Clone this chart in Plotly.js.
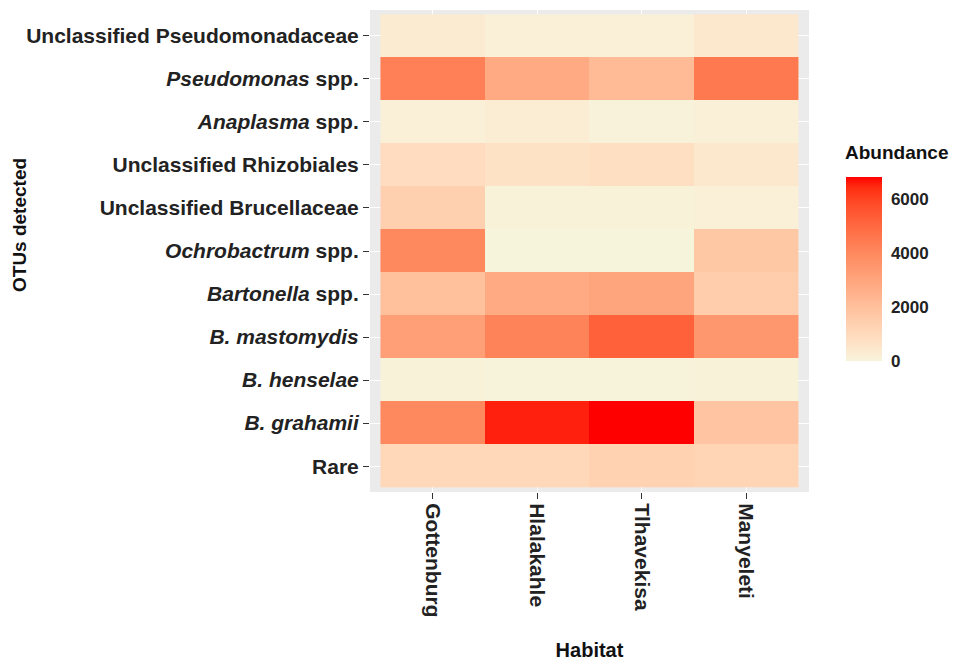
<!DOCTYPE html>
<html>
<head>
<meta charset="utf-8">
<script src="https://cdn.plot.ly/plotly-3.0.1.min.js"></script>
<style>html,body{margin:0;padding:0;background:#fff;}#chart{width:956px;height:664px;}</style>
</head>
<body>
<div id="chart"></div>
<script>
// ---- data ----
const habitats = ["Gottenburg", "Hlalakahle", "Tlhavekisa", "Manyeleti"];
const otus = ["Unclassified Pseudomonadaceae", "Pseudomonas spp.", "Anaplasma spp.", "Unclassified Rhizobiales",
  "Unclassified Brucellaceae", "Ochrobactrum spp.", "Bartonella spp.", "B. mastomydis", "B. henselae", "B. grahamii", "Rare"];
const otuLabels = ["Unclassified Pseudomonadaceae", "<i>Pseudomonas</i> spp.", "<i>Anaplasma</i> spp.", "Unclassified Rhizobiales",
  "Unclassified Brucellaceae", "<i>Ochrobactrum</i> spp.", "<i>Bartonella</i> spp.", "<i>B. mastomydis</i>", "<i>B. henselae</i>", "<i>B. grahamii</i>", "Rare"];
const gottenburg = [350, 4300, 150, 900, 1400, 4000, 2000, 3200, 80, 4000, 1100];
const hlalakahle = [150, 2800, 250, 700, 80, 0, 2800, 4200, 30, 6550, 1100];
const tlhavekisa = [150, 2200, 60, 800, 80, 0, 3000, 5200, 30, 6820, 1300];
const manyeleti = [450, 4500, 150, 450, 150, 1700, 1500, 3500, 80, 1800, 1200];
const colorTicks = [0, 2000, 4000, 6000];

// ---- colour scale (Lab interpolation, like ggplot) ----
function hex2rgb(h){return [1,3,5].map(i=>parseInt(h.substr(i,2),16));}
function rgb2lab(c){
  let [r,g,b]=c.map(v=>{v/=255;return v>0.04045?Math.pow((v+0.055)/1.055,2.4):v/12.92;});
  let x=(r*0.4124+g*0.3576+b*0.1805)/0.95047, y=(r*0.2126+g*0.7152+b*0.0722), z=(r*0.0193+g*0.1192+b*0.9505)/1.08883;
  const f=t=>t>0.008856?Math.cbrt(t):7.787*t+16/116;
  x=f(x);y=f(y);z=f(z);
  return [116*y-16, 500*(x-y), 200*(y-z)];
}
function lab2rgb(l){
  let y=(l[0]+16)/116, x=l[1]/500+y, z=y-l[2]/200;
  const fi=t=>t*t*t>0.008856?t*t*t:(t-16/116)/7.787;
  x=fi(x)*0.95047; y=fi(y); z=fi(z)*1.08883;
  let r=x*3.2406+y*-1.5372+z*-0.4986, g=x*-0.9689+y*1.8758+z*0.0415, b=x*0.0557+y*-0.2040+z*1.0570;
  return [r,g,b].map(v=>{v=v>0.0031308?1.055*Math.pow(v,1/2.4)-0.055:12.92*v;return Math.max(0,Math.min(255,Math.round(v*255)));});
}
const lowLab=rgb2lab(hex2rgb("#F7F4DC")), highLab=rgb2lab(hex2rgb("#FF0000"));
const cscale=[];
for(let i=0;i<=20;i++){
  const t=i/20;
  const c=lab2rgb(lowLab.map((v,k)=>v+(highLab[k]-v)*t));
  cscale.push([t,`rgb(${c[0]},${c[1]},${c[2]})`]);
}

const z = otus.map((_, i) => [gottenburg[i], hlalakahle[i], tlhavekisa[i], manyeleti[i]]);

const fontFam = "Liberation Sans, Arial, sans-serif";
const plotW = 956 - 370 - 147, plotH = 664 - 10 - 172;
const trace = {
  type: "heatmap",
  x: habitats, y: otus, z: z,
  colorscale: cscale, zmin: 0, zmax: 6820,
  colorbar: {
    tickvals: colorTicks, ticktext: colorTicks.map(String),
    tickfont: {family: fontFam, size: 17, color: "#222", weight: "bold"},
    ticks: "outside", ticklen: 6, tickcolor: "rgba(255,255,255,0)", tickwidth: 1,
    thickness: 36, lenmode: "pixels", len: 184,
    x: 1 + (846 - 809) / plotW, xanchor: "left", xpad: 0,
    y: (492 - 269) / plotH, yanchor: "middle", ypad: 0,
    outlinewidth: 0
  }
};

const layout = {
  width: 956, height: 664,
  margin: {l: 370, r: 147, t: 10, b: 172},
  paper_bgcolor: "#ffffff", plot_bgcolor: "#EBEBEB",
  xaxis: {
    type: "category", range: [-0.6, 3.6], showgrid: true, gridcolor: "#ffffff", gridwidth: 1,
    zeroline: false, ticks: "outside", ticklen: 6, tickcolor: "#333", tickangle: 90,
    tickfont: {family: fontFam, size: 21, color: "#222", weight: "bold"},
    title: {text: "<b>Habitat</b>", font: {family: fontFam, size: 20, color: "#111"}, standoff: 26}
  },
  yaxis: {
    type: "category", range: [10.6, -0.6], showgrid: true, gridcolor: "#ffffff", gridwidth: 1,
    zeroline: false, ticks: "outside", ticklen: 6, tickcolor: "#333",
    tickvals: otus, ticktext: otuLabels,
    tickfont: {family: fontFam, size: 21, color: "#222", weight: "bold"}
  },
  annotations: [{
    text: "<b>OTUs detected</b>", xref: "paper", yref: "paper",
    x: (20 - 370) / plotW, y: (492 - 225) / plotH, xanchor: "center", yanchor: "middle",
    textangle: -90, showarrow: false, font: {family: fontFam, size: 19, color: "#111"}
  }, {
    text: "<b>Abundance</b>", xref: "paper", yref: "paper",
    x: 1 + (843 - 809) / plotW, y: (492 - 153) / plotH, xanchor: "left", yanchor: "middle",
    showarrow: false, font: {family: fontFam, size: 19, color: "#111"}
  }]
};

Plotly.newPlot("chart", [trace], layout, {displayModeBar: false, staticPlot: true});
</script>
</body>
</html>
